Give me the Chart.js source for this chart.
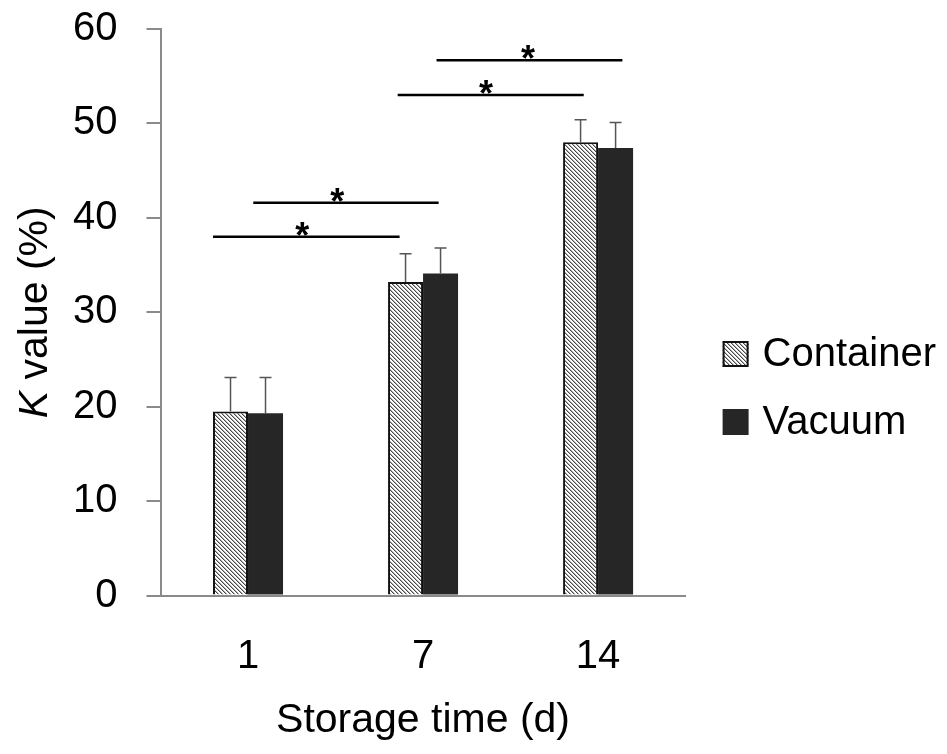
<!DOCTYPE html>
<html lang="en">
<head>
<meta charset="UTF-8">
<title>K value during storage</title>
<script src="https://cdn.jsdelivr.net/npm/chart.js"></script>
<style>
    html, body { margin: 0; padding: 0; background: #fff; }
</style>
</head>
<body>
<canvas id="kChart" width="947" height="754"></canvas>
<script>
// storage days and K value (%) per packaging type
const days = ['1', '7', '14'];
const containerK = [19.5, 33.2, 48.0];
const vacuumK = [19.3, 34.1, 47.4];
// upper error bar length (SD)
const containerSd = [3.6, 3.0, 2.4];
const vacuumSd = [3.8, 2.7, 2.7];
// significance lines, in category units on the x axis and K value on the y axis
const sigStart = [-0.2, 0.03, 0.855, 1.077];
const sigEnd = [0.866, 1.089, 1.918, 2.139];
const sigLevel = [38.0, 41.6, 53.0, 56.7];
const sigStar = [0.31, 0.51, 1.36, 1.60];

const FONT = '"Liberation Sans", Arial, sans-serif';

// diagonal hatch for the container bars
function makeHatch() {
    const c = document.createElement('canvas');
    c.width = 4; c.height = 4;
    const g = c.getContext('2d');
    g.fillStyle = '#ffffff';
    g.fillRect(0, 0, 4, 4);
    for (let i = 0; i < 4; i++) {
        g.fillStyle = '#4a4a4a';
        g.fillRect(i, i, 1, 1);
        g.fillStyle = '#b0b0b0';
        g.fillRect((i + 1) % 4, i, 1, 1);
    }
    return g.createPattern(c, 'repeat');
}
const hatch = makeHatch();

const errorBars = {
    id: 'errorBars',
    afterDatasetsDraw(chart) {
        const ctx = chart.ctx;
        const y = chart.scales.y;
        ctx.save();
        ctx.strokeStyle = '#555';
        ctx.lineWidth = 1.5;
        chart.data.datasets.forEach((ds, di) => {
            chart.getDatasetMeta(di).data.forEach((bar, i) => {
                const top = y.getPixelForValue(ds.data[i] + ds.sd[i]);
                ctx.beginPath();
                ctx.moveTo(bar.x, bar.y);
                ctx.lineTo(bar.x, top);
                ctx.moveTo(bar.x - 6, top);
                ctx.lineTo(bar.x + 6, top);
                ctx.stroke();
            });
        });
        ctx.restore();
    }
};

const sigLines = {
    id: 'sigLines',
    afterDraw(chart) {
        const ctx = chart.ctx;
        const {x, y} = chart.scales;
        ctx.save();
        ctx.strokeStyle = '#000';
        ctx.fillStyle = '#000';
        ctx.lineWidth = 2.5;
        ctx.font = 'bold 36px ' + FONT;
        ctx.textAlign = 'center';
        ctx.textBaseline = 'alphabetic';
        sigLevel.forEach((v, i) => {
            const py = y.getPixelForValue(v);
            ctx.beginPath();
            ctx.moveTo(x.getPixelForValue(sigStart[i]), py);
            ctx.lineTo(x.getPixelForValue(sigEnd[i]), py);
            ctx.stroke();
            ctx.fillText('*', x.getPixelForValue(sigStar[i]), py + 11);
        });
        ctx.restore();
    }
};

const yTitle = {
    id: 'yTitle',
    afterDraw(chart) {
        const ctx = chart.ctx;
        const area = chart.chartArea;
        ctx.save();
        ctx.translate(36, (area.top + area.bottom) / 2);
        ctx.rotate(-Math.PI / 2);
        ctx.fillStyle = '#000';
        ctx.textBaseline = 'middle';
        ctx.textAlign = 'left';
        const kFont = 'italic 41px ' + FONT;
        const restFont = '41px ' + FONT;
        const rest = ' value (%)';
        ctx.font = kFont;
        const wK = ctx.measureText('K').width;
        ctx.font = restFont;
        const wRest = ctx.measureText(rest).width;
        const x0 = -(wK + wRest) / 2;
        ctx.font = kFont;
        ctx.fillText('K', x0, 0);
        ctx.font = restFont;
        ctx.fillText(rest, x0 + wK, 0);
        ctx.restore();
    }
};

const sideLegend = {
    id: 'sideLegend',
    afterDraw(chart) {
        const ctx = chart.ctx;
        const area = chart.chartArea;
        const left = area.right + 37;
        const rows = [area.top + 325, area.top + 393];
        ctx.save();
        ctx.font = '40px ' + FONT;
        ctx.textBaseline = 'middle';
        ctx.textAlign = 'left';
        chart.data.datasets.forEach((ds, i) => {
            const cy = rows[i];
            ctx.fillStyle = ds.backgroundColor;
            ctx.fillRect(left, cy - 13, 26, 26);
            if (ds.borderWidth) {
                ctx.strokeStyle = ds.borderColor;
                ctx.lineWidth = 2;
                ctx.strokeRect(left + 1, cy - 12, 24, 24);
            }
            ctx.fillStyle = '#000';
            ctx.fillText(ds.label, left + 40, cy + 1);
        });
        ctx.restore();
    }
};

const ctx = document.getElementById('kChart').getContext('2d');

new Chart(ctx, {
    type: 'bar',
    data: {
        labels: days,
        datasets: [
            {
                label: 'Container',
                data: containerK,
                sd: containerSd,
                backgroundColor: hatch,
                borderColor: '#111',
                borderWidth: 2
            },
            {
                label: 'Vacuum',
                data: vacuumK,
                sd: vacuumSd,
                backgroundColor: '#262626',
                borderWidth: 0
            }
        ]
    },
    options: {
        responsive: false,
        animation: false,
        layout: { padding: { top: 29, right: 261.4, left: 0, bottom: 0 } },
        datasets: { bar: { categoryPercentage: 0.4, barPercentage: 1.0 } },
        plugins: { legend: { display: false }, tooltip: { enabled: false } },
        scales: {
            x: {
                grid: { display: false, drawTicks: false, tickLength: 0 },
                border: { display: true, color: '#8a8a8a', width: 2 },
                ticks: { color: '#000', padding: 37, font: { family: FONT, size: 40 } },
                title: {
                    display: true,
                    text: 'Storage time (d)',
                    color: '#000',
                    font: { family: FONT, size: 41 },
                    padding: { top: 0, bottom: 9 }
                },
                afterFit(scale) { scale.height = 158.5; }
            },
            y: {
                min: 0,
                max: 60,
                grid: { drawOnChartArea: false, drawTicks: true, tickLength: 14, color: '#8a8a8a', lineWidth: 2 },
                border: { display: true, color: '#8a8a8a', width: 2 },
                ticks: { stepSize: 10, color: '#000', padding: 29, font: { family: FONT, size: 40 } },
                afterFit(scale) {
                    scale.width = 160.5;
                    // labels may overhang the plot; keep the plot top fixed by layout padding
                    scale.paddingTop = 0;
                    scale.paddingBottom = 0;
                }
            }
        }
    },
    plugins: [errorBars, sigLines, yTitle, sideLegend]
});
</script>
</body>
</html>
